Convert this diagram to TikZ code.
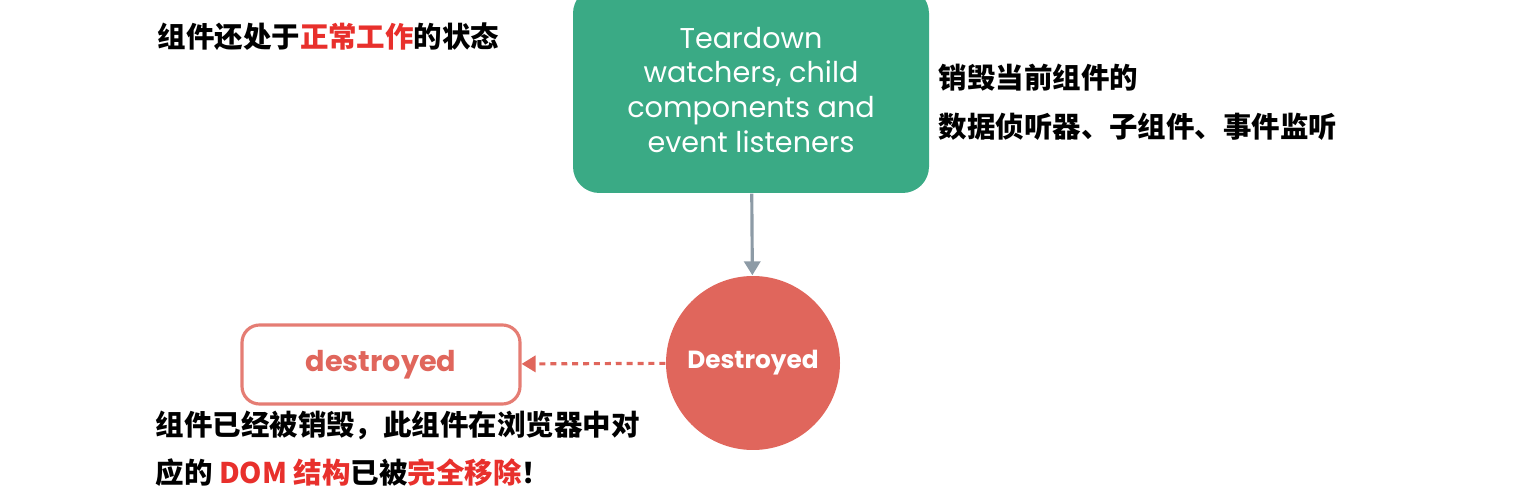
\documentclass[tikz,border=0pt]{standalone}
\usepackage{fontspec}
\setsansfont{Poppins}
\newfontfamily\cjk{Noto Sans CJK SC}
\usepackage{tikz}
\usetikzlibrary{arrows.meta, positioning}
\definecolor{vuegreen}{HTML}{3AAA85}
\definecolor{hookred}{HTML}{E0665C}
\definecolor{edgegray}{HTML}{8D9BA6}
\definecolor{noteRed}{HTML}{E8302C}
\tikzset{
  every picture/.style={/utils/exec={\sffamily}},
  phase/.style={rounded corners=15pt, fill=vuegreen, text=white, align=center,
    minimum width=7.12cm, minimum height=4.12cm, inner sep=0pt,
    font=\sffamily\fontsize{16.3}{19.9}\selectfont},
  state/.style={circle, fill=hookred, text=white, minimum size=3.48cm, inner sep=0pt,
    font=\sffamily\bfseries\fontsize{14.1}{16}\selectfont},
  hook/.style={rounded corners=10pt, draw=hookred!85, line width=1.8pt, fill=white,
    text=hookred, minimum width=5.56cm, minimum height=1.58cm,
    font=\sffamily\bfseries\fontsize{16.3}{18}\selectfont},
  note/.style={anchor=west, inner sep=0pt, font=\cjk\bfseries\fontsize{16.2}{19}\selectfont},
}
\newcommand{\hl}[1]{\textcolor{noteRed}{#1}}

\begin{document}
\begin{tikzpicture}[thick, >=Triangle]
        \useasboundingbox (0,0) rectangle (30.48,9.9);

        % Nodes
        \node[phase] (teardown) at (15.02,8.10) {Teardown\\watchers, child\\components and\\event listeners};
        \node[state] (Destroyed) at (15.06,2.64) {Destroyed};
        \node[hook] (destroyed) at (7.62,2.61) {destroyed};

        % Notes
        \node[note] (before) at (3.14,9.16) {组件还处于\hl{正常工作}的状态};
        \node[note] (teardownA) at (18.76,8.34) {销毁当前组件的};
        \node[note] (teardownB) at (18.76,7.36) {数据侦听器、子组件、事件监听};
        \node[note] (afterA) at (3.10,1.40) {组件已经被销毁，此组件在浏览器中对};
        \node[note] (afterB) at (3.10,0.44) {应的 \hl{DOM 结构}已被\hl{完全移除}！};

        % Edges
        \draw[->, edgegray, line width=1.8pt] (teardown) -- (Destroyed);
        \draw[->, hookred, line width=1.8pt, dash pattern=on 3.4pt off 2.8pt] (Destroyed) -- (destroyed);
    \end{tikzpicture}
\end{document}
